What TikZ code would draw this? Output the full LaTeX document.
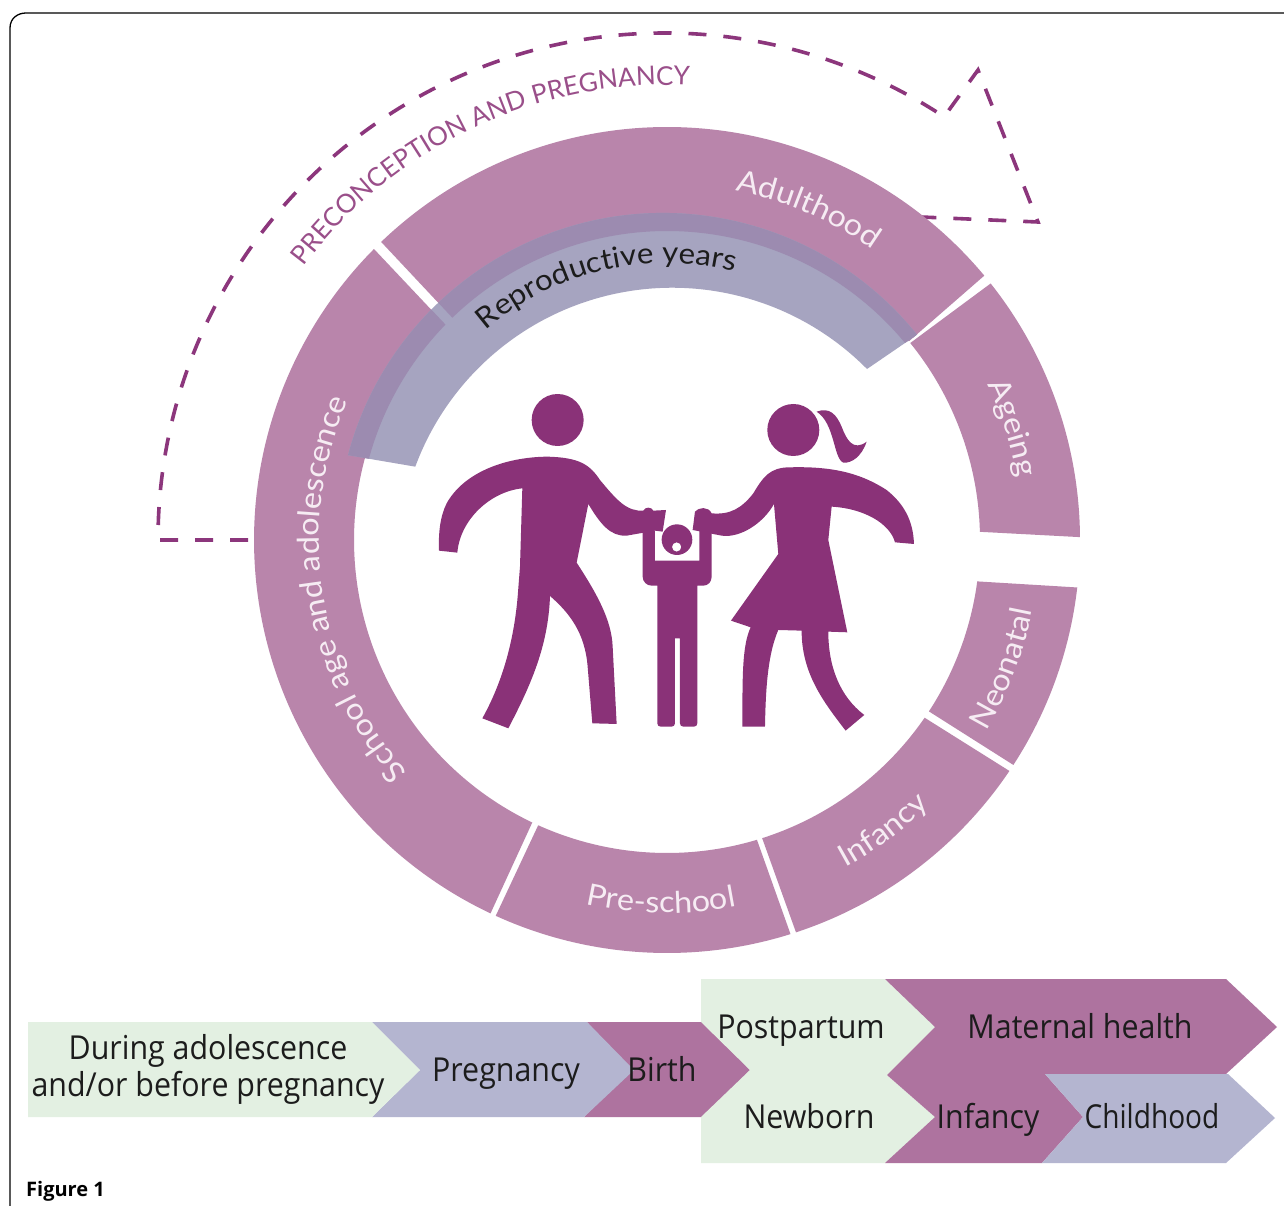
\documentclass[tikz,border=0pt]{standalone}
\usepackage{fontspec}
\usetikzlibrary{decorations.text}
\setmainfont[FakeStretch=1.08]{Lato}
\newfontfamily\prefont{Lato}
\newfontfamily\barfont[FakeStretch=0.92]{Open Sans}
\newfontfamily\narrowbar[FakeStretch=0.85]{Open Sans}
\newfontfamily\capfont{Open Sans}
\definecolor{ring}{HTML}{B985AB}
\definecolor{ringtxt}{HTML}{F6ECF3}
\definecolor{repro}{HTML}{A6A4C0}
\definecolor{overlap}{HTML}{9C8BB0}
\definecolor{fig}{HTML}{8A3278}
\definecolor{dashc}{HTML}{8C367C}
\definecolor{pretxt}{HTML}{9A4F8A}
\definecolor{bgreen}{HTML}{E3F0E2}
\definecolor{blav}{HTML}{B4B5D0}
\definecolor{bmag}{HTML}{AE739F}
\definecolor{bartxt}{HTML}{1C1C1C}
\newcommand{\seg}[4]{(#1:413) arc[start angle=#1,end angle=#2,radius=413] -- (#4:313) arc[start angle=#4,end angle=#3,radius=313] -- cycle}
\newcommand{\segover}[4]{(#1:413) arc[start angle=#1,end angle=#2,radius=413] -- (#4:309) arc[start angle=#4,end angle=#3,radius=309] -- cycle}
\newcommand{\reprobandpath}{(663,539) ++(194.9:326) arc[start angle=194.9,end angle=321.2,radius=326] -- (867,369) arc[start angle=315.3,end angle=200.3,radius=274] -- cycle}
\tikzset{
  barlabel/.style={text=bartxt,font=\barfont\fontsize{33}{37}\selectfont,align=center,inner sep=0pt,anchor=base},
  figfill/.style={fill=fig,draw=none}
}
\begin{document}
\begin{tikzpicture}[x=1pt,y=-1pt]
\useasboundingbox (0,0) rectangle (1284,1206);
\fill[white] (0,0) rectangle (1284,1206);
% frame
\draw[black,line width=1.3pt] (10,1206) -- (10,28) .. controls (10,18) and (18,13) .. (26,13) -- (1284,13);
% dashed arrow
\draw[dashc,line width=3.6pt,dash pattern=on 18pt off 17pt] (248,540) -- (158,540) arc[start angle=180,end angle=303.4,radius=507] -- (978,70) -- (1038,222) -- (921,217);
% ring
\begin{scope}[shift={(667,540)}]
\fill[ring] \seg{115.3}{224.8}{115.5}{224.2};
\fill[ring] \seg{226.2}{320.2}{226}{320.6};
\fill[ring] \seg{321.6}{359.6}{321}{358.5};
\fill[ring] \seg{6.6}{33}{7.6}{33.2};
\fill[ring] \seg{34}{71.8}{34.6}{72.3};
\fill[ring] \seg{72.6}{114.5}{73.3}{114.3};
\end{scope}
% reproductive band
\fill[repro] \reprobandpath;
\begin{scope}
\clip \reprobandpath;
\begin{scope}[shift={(667,540)}]
\fill[overlap] \segover{115.3}{224.8}{115.5}{224.2};
\fill[overlap] \segover{226.2}{320.6}{226}{320.6};
\end{scope}
\end{scope}
% curved labels
\begin{scope}[shift={(667,540)}]
\path[decorate,decoration={text along path,text align=center,text={|\fontsize{30}{30}\selectfont\color{ringtxt}|Adulthood}}] (-78.6:356) arc[start angle=-78.6,end angle=-55.1,radius=356];
\path[decorate,decoration={text along path,text align=center,text={|\fontsize{29}{29}\selectfont\color{bartxt}|Reproductive years}}] (-131.7:277) arc[start angle=-131.7,end angle=-75,radius=277];
\path[decorate,decoration={text along path,text align=center,text={|\fontsize{30}{30}\selectfont\color{ringtxt}|Ageing}}] (-26:356) arc[start angle=-26,end angle=-10,radius=356];
\path[decorate,decoration={text along path,text align=center,text={|\fontsize{30}{30}\selectfont\color{ringtxt}|Neonatal}}] (31:372) arc[start angle=31,end angle=10.8,radius=372];
\path[decorate,decoration={text along path,text align=center,text={|\fontsize{30}{30}\selectfont\color{ringtxt}|Infancy}}] (61.5:373) arc[start angle=61.5,end angle=45.2,radius=373];
\path[decorate,decoration={text along path,text align=center,text={|\fontsize{30}{30}\selectfont\color{ringtxt}|Pre-school}}] (102.6:373) arc[start angle=102.6,end angle=79.3,radius=373];
\path[decorate,decoration={text along path,text align=center,text={|\fontsize{30}{30}\selectfont\color{ringtxt}|School age and adolescence}}] (138.3:348) arc[start angle=138.3,end angle=203.5,radius=348];
\path[decorate,decoration={text along path,text align=center,text={|\prefont\fontsize{26}{26}\selectfont\color{pretxt}|PRECONCEPTION AND PREGNANCY}}] (216.8:455) arc[start angle=216.8,end angle=273,radius=455];
\end{scope}
% family, traced in 3x coordinates
\begin{scope}[shift={(420,380)},x=0.3333pt,y=-0.3333pt]
% man
\fill[figfill] (413,120) circle[radius=78];
\fill[figfill] (57,512) -- (112,518) .. controls (120,420) and (210,335) .. (307,325)
  -- (300,560) -- (293,650) .. controls (280,800) and (240,920) .. (187,1015)
  -- (265,1045) .. controls (330,920) and (385,800) .. (390,648)
  .. controls (450,700) and (495,760) .. (503,860) -- (517,1030) -- (590,1032) -- (578,800)
  .. controls (575,720) and (530,640) .. (470,548) -- (505,372)
  .. controls (540,430) and (570,470) .. (620,467) -- (705,452) -- (728,455) -- (738,390)
  -- (700,392) .. controls (695,380) and (675,380) .. (670,392)
  .. controls (620,395) and (590,360) .. (540,300)
  .. controls (510,255) and (480,232) .. (380,230)
  .. controls (250,232) and (130,280) .. (80,370)
  .. controls (60,410) and (55,460) .. (57,512) -- cycle;
% child
\fill[figfill] (668,455) -- (705,452) -- (705,542) -- (838,542) -- (838,452) -- (875,458)
  -- (875,590) .. controls (875,605) and (865,617) .. (850,617) -- (832,617) -- (832,1030)
  .. controls (832,1036) and (828,1040) .. (822,1040) -- (790,1040)
  .. controls (784,1040) and (780,1036) .. (780,1030) -- (780,775) -- (765,775) -- (765,1030)
  .. controls (765,1036) and (761,1040) .. (755,1040) -- (722,1040)
  .. controls (716,1040) and (712,1036) .. (712,1030) -- (712,617) -- (695,617)
  .. controls (680,617) and (668,605) .. (668,590) -- cycle;
\fill[figfill,even odd rule] (771,479) circle[radius=46] (770,501) circle[radius=14];
% woman
\fill[figfill] (1120,150) circle[radius=78];
\fill[figfill] (1190,95) .. controls (1230,80) and (1250,105) .. (1265,140)
  .. controls (1280,180) and (1300,215) .. (1340,185)
  .. controls (1325,230) and (1295,250) .. (1270,248)
  .. controls (1240,235) and (1245,130) .. (1190,95) -- cycle;
\fill[figfill] (818,450) -- (825,395) .. controls (835,382) and (865,378) .. (875,400)
  .. controls (930,405) and (965,385) .. (1000,340)
  .. controls (1030,290) and (1050,262) .. (1110,262)
  .. controls (1250,258) and (1330,285) .. (1400,330)
  .. controls (1450,370) and (1480,420) .. (1482,492) -- (1425,487)
  .. controls (1410,430) and (1330,385) .. (1235,380)
  -- (1225,480) -- (1282,757) -- (1225,755)
  .. controls (1225,860) and (1260,950) .. (1333,1005) -- (1277,1052)
  .. controls (1210,965) and (1145,880) .. (1145,752) -- (1075,750)
  .. controls (1040,830) and (1037,950) .. (1035,1040) -- (967,1040)
  .. controls (968,900) and (965,800) .. (992,742) -- (933,722) -- (1075,522) -- (1062,372)
  .. controls (1030,430) and (960,475) .. (905,467) -- cycle;
\end{scope}
% bottom chevrons
\fill[bmag] (587,1022) -- (705,1022) -- (750,1070) -- (705,1117) -- (584,1117) -- (630,1070) -- cycle;
\fill[blav] (372,1022) -- (587,1022) -- (634,1070) -- (584,1117) -- (372,1117) -- (420,1070) -- cycle;
\fill[bgreen] (28,1022) -- (372,1022) -- (420,1070) -- (372,1117) -- (28,1117) -- cycle;
\fill[bgreen] (701,979) -- (885,979) -- (935,1027) -- (887,1075) -- (935,1117) -- (885,1163) -- (701,1163) -- (701,1117) -- (750,1070) -- (701,1022) -- cycle;
\fill[bmag] (885,979) -- (1226,979) -- (1277,1027) -- (1226,1074) -- (1045,1074) -- (1083,1117) -- (1042,1163) -- (885,1163) -- (935,1117) -- (887,1075) -- (935,1027) -- cycle;
\fill[blav] (1045,1074) -- (1228,1074) -- (1275,1118) -- (1226,1163) -- (1042,1163) -- (1083,1117) -- cycle;
\node[barlabel] (l1) at (208,1059) {During adolescence};
\node[barlabel] (l1b) at (208,1096) {and/or before pregnancy};
\node[barlabel] (l2) at (506,1081) {Pregnancy};
\node[barlabel] (l3) at (662,1081) {Birth};
\node[barlabel] (l4) at (801,1038) {Postpartum};
\node[barlabel] (l5) at (809,1128) {Newborn};
\node[barlabel] (l6) at (1080,1038) {Maternal health};
\node[barlabel] (l7) at (988,1128) {Infancy};
\node[barlabel,font=\narrowbar\fontsize{33}{37}\selectfont] (l8) at (1152,1128) {Childhood};
\node[anchor=west,inner sep=0pt,font=\capfont\bfseries\fontsize{20}{24}\selectfont] (cap) at (26,1191) {Figure 1};
\end{tikzpicture}
\end{document}
